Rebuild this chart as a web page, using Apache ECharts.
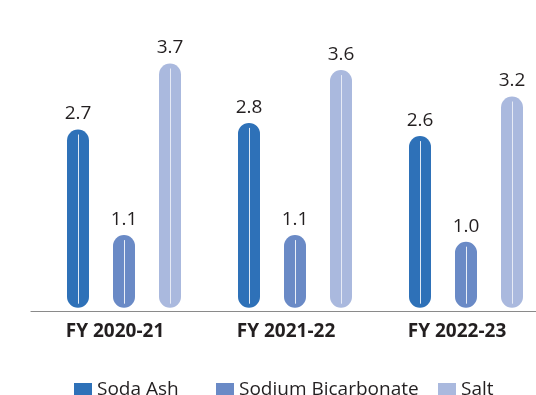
<!DOCTYPE html>
<html>
<head>
<meta charset="utf-8">
<script src="https://cdn.jsdelivr.net/npm/echarts@6/dist/echarts.min.js"></script>
<style>
  html, body { margin: 0; padding: 0; background: #ffffff; }
  #chart { width: 536px; height: 395px; }
</style>
</head>
<body>
<div id="chart"></div>
<script>
// Production volumes by financial year
const years = ['FY 2020-21', 'FY 2021-22', 'FY 2022-23'];
const sodaAsh = [2.7, 2.8, 2.6];
const sodiumBicarbonate = [1.1, 1.1, 1.0];
const salt = [3.7, 3.6, 3.2];

const seriesNames = ['Soda Ash', 'Sodium Bicarbonate', 'Salt'];
const seriesData = [sodaAsh, sodiumBicarbonate, salt];
const colors = ['#2e71b8', '#6a8ac6', '#aab9de'];
const stripeColors = ['rgba(255,255,255,0.85)', 'rgba(255,255,255,0.85)', 'rgba(255,255,255,0.7)'];
const legendLefts = [74, 216, 438];

const BAR_W = 22;
const BAR_GAP = 24;
const FONT = '"Open Sans", "Noto Sans", sans-serif';
const Y_MIN = -0.05;
const Y_MAX = 4;

const chart = echarts.init(document.getElementById('chart'), null, { renderer: 'canvas' });

// Pill-shaped bars (plotted on grid 1, whose category points sit at the group centres)
const barSeries = seriesNames.map((name, i) => ({
  name: name,
  type: 'bar',
  xAxisIndex: 1,
  yAxisIndex: 1,
  data: seriesData[i],
  barWidth: BAR_W,
  barGap: (BAR_GAP / BAR_W * 100) + '%',
  itemStyle: { color: colors[i], borderRadius: BAR_W / 2 },
  label: {
    show: true,
    position: 'top',
    distance: 6,
    formatter: p => p.value.toFixed(1),
    color: '#231f20',
    fontSize: 19,
    fontFamily: FONT
  },
  z: 2
}));

// Thin highlight stripe down the middle of each bar
const stripeSeries = {
  type: 'custom',
  xAxisIndex: 1,
  yAxisIndex: 1,
  silent: true,
  z: 5,
  data: years.map((_, c) => c),
  renderItem: function (params, api) {
    const c = api.value(0);
    const children = seriesData.map((arr, i) => {
      const top = api.coord([c, arr[c]]);
      const base = api.coord([c, 0]);
      const x = Math.round(top[0] + (i - 1) * (BAR_W + BAR_GAP)) + 0.5;
      return {
        type: 'line',
        shape: { x1: x, y1: top[1] + 5, x2: x, y2: base[1] - 4 },
        style: { stroke: stripeColors[i], lineWidth: 1 }
      };
    });
    return { type: 'group', children: children };
  }
};

// One legend block per series so each entry sits at its own spot
const legends = seriesNames.map((name, i) => ({
  data: [name],
  left: legendLefts[i],
  top: 380,
  padding: 0,
  itemWidth: 18,
  itemHeight: 13,
  icon: 'rect',
  textStyle: { color: '#231f20', fontSize: 19, fontFamily: FONT }
}));

chart.setOption({
  animation: false,
  grid: [
    // full-width baseline
    { left: 31, right: 0, top: 43.7, bottom: 84, containLabel: false },
    // plotting area for the bar groups
    { left: 124, right: 70, top: 43.7, bottom: 84, containLabel: false }
  ],
  legend: legends,
  xAxis: [
    {
      gridIndex: 0,
      type: 'value',
      min: 0,
      max: 1,
      axisLine: { show: true, onZero: false, lineStyle: { color: '#8a8a8a', width: 1.2 } },
      axisTick: { show: false },
      axisLabel: { show: false },
      splitLine: { show: false }
    },
    {
      gridIndex: 1,
      type: 'category',
      data: years,
      boundaryGap: false,
      axisLine: { show: false },
      axisTick: { show: false },
      axisLabel: {
        color: '#231f20',
        fontSize: 19,
        fontWeight: 'bold',
        fontFamily: FONT,
        margin: 11,
        padding: [0, 18, 0, 0]
      }
    }
  ],
  yAxis: [
    { gridIndex: 0, type: 'value', min: Y_MIN, max: Y_MAX, show: false },
    { gridIndex: 1, type: 'value', min: Y_MIN, max: Y_MAX, show: false, splitLine: { show: false } }
  ],
  series: barSeries.concat([stripeSeries])
});
</script>
</body>
</html>
